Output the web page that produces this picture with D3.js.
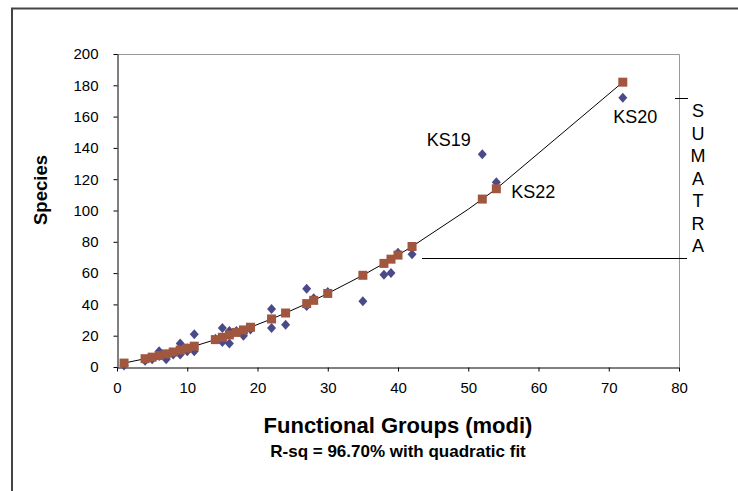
<!DOCTYPE html>
<html><head><meta charset="utf-8">
<script src="https://cdn.jsdelivr.net/npm/d3@7"></script>
<style>body{margin:0;background:#fff;}svg{display:block;font-family:"Liberation Sans",Arial,sans-serif;}</style>
</head><body>
<script>
// Observed (diamonds)
const obsX = [1,4,5,6,6,7,7,8,9,9,10,10,11,11,14,15,15,16,16,17,18,19,22,22,24,27,27,28,30,35,38,39,40,42,52,54,72];
const obsY = [1,4,5,10,7,5,8,8,15,8,12,10,21,10,18,25,16,23,15,23,20,24,37,25,27,50,39,44,48,42,59,60,73,72,136,118,172];
// Fitted (squares)
const fitX = [1,4,5,6,7,8,9,10,11,14,15,16,17,18,19,22,24,27,28,30,35,38,39,40,42,52,54,72];
const fitY = [2.5,5.3,6.3,7.3,8.4,9.6,10.8,12.0,13.3,17.5,19.0,20.5,22.1,23.7,25.4,30.7,34.5,40.5,42.6,47.0,58.6,66.2,68.9,71.5,77.0,107.3,113.9,182.0];
// Fit line vertices
const lineX = [1,4,5,6,7,8,9,10,11,14,15,16,17,18,19,22,24,27,28,30,35,38,39,40,42,50,52,54,72];
const lineY = [2.5,5.3,6.3,7.3,8.4,9.6,10.8,12.0,13.3,17.5,19.0,20.5,22.1,23.7,25.4,30.7,34.5,40.5,42.6,47.0,58.6,66.2,68.9,71.5,77.0,100.8,107.3,113.9,182.0];
const labels = [{t:"KS19",x:52,y:136},{t:"KS22",x:54,y:114},{t:"KS20",x:72,y:172}];
const xTicks = [0,10,20,30,40,50,60,70,80];
const yTicks = [0,20,40,60,80,100,120,140,160,180,200];
const sideText = "SUMATRA";

const W=738,H=491;
const svg=d3.select("body").append("svg").attr("width",W).attr("height",H);
// outer frame (partially visible)
svg.append("path").attr("d","M12,491 V8.5 H738").attr("fill","none").attr("stroke","#444").attr("stroke-width",2);

const x=d3.scaleLinear().domain([0,80]).range([117,679]);
const y=d3.scaleLinear().domain([0,200]).range([367,54]);

// plot border top/right
svg.append("path").attr("d",`M${x(0)},${y(200)+0.5} H${x(80)+0.5} V${y(0)}`).attr("fill","none").attr("stroke","#999").attr("stroke-width",1);

const ya=svg.append("g").attr("transform",`translate(${x(0)+0.5},0)`)
 .call(d3.axisLeft(y).tickValues(yTicks).tickSize(4).tickPadding(15).tickSizeOuter(0));
const xa=svg.append("g").attr("transform",`translate(0,${y(0)+0.5})`)
 .call(d3.axisBottom(x).tickValues(xTicks).tickSize(4).tickPadding(11).tickSizeOuter(0));
[ya,xa].forEach(g=>{g.selectAll("text").attr("font-size",15).attr("fill","#000").attr("font-family","Liberation Sans, Arial, sans-serif");
 g.selectAll("line,path").attr("stroke","#000");});

// fit line
svg.append("path").datum(lineX.map((d,i)=>[d,lineY[i]]))
 .attr("d",d3.line().x(d=>x(d[0])).y(d=>y(d[1])))
 .attr("fill","none").attr("stroke","#000").attr("stroke-width",1);

// diamonds
svg.append("g").selectAll("path").data(obsX.map((d,i)=>[d,obsY[i]])).join("path")
 .attr("transform",d=>`translate(${x(d[0])},${y(d[1])})`)
 .attr("d","M0,-5 L4.5,0 L0,5 L-4.5,0 Z").attr("fill","#4a4a8a");
// squares
svg.append("g").selectAll("rect").data(fitX.map((d,i)=>[d,fitY[i]])).join("rect")
 .attr("x",d=>x(d[0])-4.5).attr("y",d=>y(d[1])-4.5).attr("width",9).attr("height",9)
 .attr("fill","#a0563f");

// labels
const off={KS19:[-55.5,-8],KS22:[15,9.5],KS20:[-9.5,25]};
svg.append("g").selectAll("text").data(labels).join("text")
 .attr("x",d=>x(d.x)+off[d.t][0]).attr("y",d=>y(d.y)+off[d.t][1])
 .attr("font-size",18).text(d=>d.t);

// bracket lines
svg.append("line").attr("x1",675).attr("x2",688).attr("y1",98.5).attr("y2",98.5).attr("stroke","#000");
svg.append("line").attr("x1",422).attr("x2",687).attr("y1",258.5).attr("y2",258.5).attr("stroke","#000");
svg.append("g").selectAll("text").data(sideText.split("")).join("text")
 .attr("x",698).attr("y",(d,i)=>117+i*22.5).attr("text-anchor","middle").attr("font-size",18).text(d=>d);

// axis titles
svg.append("text").attr("transform","translate(47,190) rotate(-90)").attr("text-anchor","middle")
 .attr("font-weight","bold").attr("font-size",18.5).text("Species");
svg.append("text").attr("x",398).attr("y",433).attr("text-anchor","middle")
 .attr("font-weight","bold").attr("font-size",22).text("Functional Groups (modi)");
svg.append("text").attr("x",398).attr("y",457).attr("text-anchor","middle")
 .attr("font-weight","bold").attr("font-size",17).text("R-sq = 96.70% with quadratic fit");
</script>
</body></html>
